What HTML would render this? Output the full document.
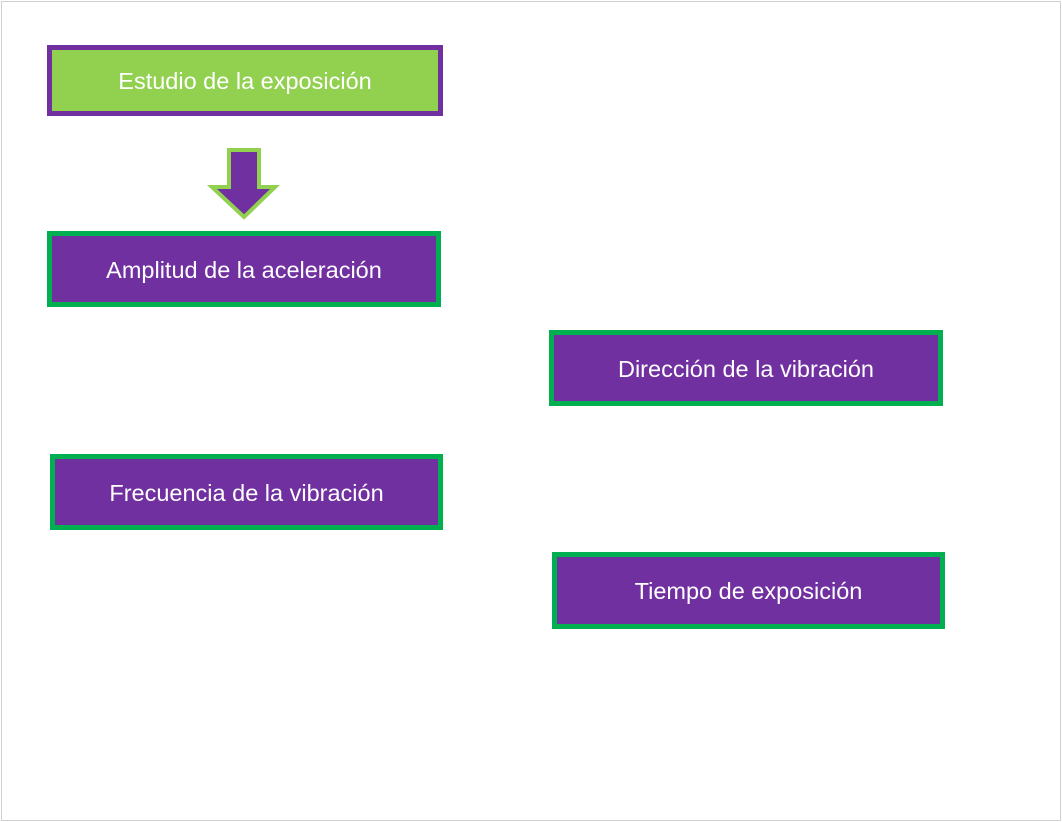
<!DOCTYPE html>
<html><head><style>
body{margin:0;width:1062px;height:822px;background:#fff;position:relative;overflow:hidden;font-family:"Liberation Sans",sans-serif}
.frame{position:absolute;left:1px;top:1px;width:1058px;height:818px;border:1px solid #d0d0d0}
.b{position:absolute;box-sizing:border-box;border:5px solid #00b050;background:#7030a0;color:#fff;font-size:23.5px;display:flex;align-items:center;justify-content:center;padding-top:2px}
</style></head><body>
<div class="frame"></div>
<div class="b" style="left:47px;top:45px;width:396px;height:71px;background:#92d050;border-color:#7030a0">Estudio de la exposición</div>
<svg style="position:absolute;left:0;top:0" width="1062" height="822">
<polygon points="229,150 259,150 259,187 275,187 244,217 212,187 229,187" fill="#7030a0" stroke="#92d050" stroke-width="4"/>
</svg>
<div class="b" style="left:47px;top:231px;width:394px;height:76px">Amplitud de la aceleración</div>
<div class="b" style="left:549px;top:330px;width:394px;height:76px">Dirección de la vibración</div>
<div class="b" style="left:50px;top:454px;width:393px;height:76px">Frecuencia de la vibración</div>
<div class="b" style="left:552px;top:552px;width:393px;height:77px">Tiempo de exposición</div>
</body></html>
